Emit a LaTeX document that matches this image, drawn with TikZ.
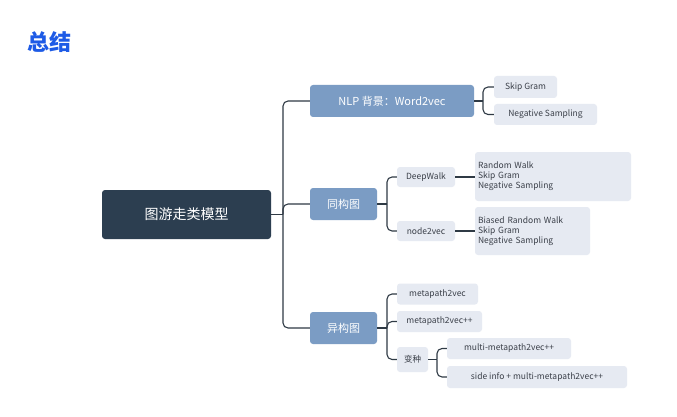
\documentclass[tikz,border=0pt]{standalone}
\usepackage{fontspec}
\setmainfont{Noto Sans CJK SC}
\begin{document}
\begin{tikzpicture}[x=1pt,y=-1pt,
 mid/.style={fill=mblue,rounded corners=3pt,text=white,font=\fontsize{11}{13}\selectfont,inner sep=0pt},
 leaf/.style={fill=lgray,rounded corners=3pt,text=tgray,font=\fontsize{8.5}{10}\selectfont,inner sep=0pt},
 ln/.style={draw=lcol,line width=1.1pt,rounded corners=5pt}]
\definecolor{mblue}{HTML}{7B9CC4}
\definecolor{lgray}{HTML}{E6EAF2}
\definecolor{tgray}{HTML}{3A3F48}
\definecolor{lcol}{HTML}{2F3A45}
\definecolor{dark}{HTML}{2C3E50}
\definecolor{tblue}{HTML}{1E5BE6}
\useasboundingbox (0,0) rectangle (677,417);
\fill[white] (0,0) rectangle (677,417);
\node[font=\fontsize{22}{24}\selectfont\bfseries,text=tblue,anchor=west] (title) at (24,42) {总结};
\node[fill=dark,rounded corners=3pt,text=white,font=\fontsize{14}{16}\selectfont,minimum width=169pt,minimum height=49pt,inner sep=0pt] (root) at (186.5,214.5) {图游走类模型};
\node[mid,minimum width=164pt,minimum height=32pt] (nlp) at (392,101) {NLP 背景：Word2vec};
\node[mid,minimum width=67pt,minimum height=32pt] (tong) at (343.5,204) {同构图};
\node[mid,minimum width=67pt,minimum height=32pt] (yi) at (343.5,328) {异构图};
\node[leaf,minimum width=63pt,minimum height=22pt] (sg) at (525.5,87) {Skip Gram};
\node[leaf,minimum width=103pt,minimum height=21pt] (ns) at (545.5,114.5) {Negative Sampling};
\node[leaf,minimum width=58pt,minimum height=20pt] (dw) at (426,177) {DeepWalk};
\node[leaf,minimum width=156pt,minimum height=49pt,align=left,text width=150pt] (b1) at (553,176.5) {Random Walk\\Skip Gram\\Negative Sampling};
\node[leaf,minimum width=58pt,minimum height=20pt] (n2v) at (426,231) {node2vec};
\node[leaf,minimum width=115pt,minimum height=48pt,align=left,text width=109pt] (b2) at (532.5,231) {Biased Random Walk\\Skip Gram\\Negative Sampling};
\node[leaf,minimum width=81pt,minimum height=21pt] (m1) at (437.5,294) {metapath2vec};
\node[leaf,minimum width=85pt,minimum height=21pt] (m2) at (439.5,321.5) {metapath2vec++};
\node[leaf,minimum width=31pt,minimum height=25pt] (bz) at (412.5,359.5) {变种};
\node[leaf,minimum width=124pt,minimum height=21pt] (mm) at (509,348.5) {multi-metapath2vec++};
\node[leaf,minimum width=180pt,minimum height=22pt] (si) at (537,377) {side info + multi-metapath2vec++};
\coordinate (t) at (283,214.5);
\draw[ln] (root.east) -- (t);
\foreach \n in {nlp,tong,yi} \draw[ln] (t) |- (\n.west);
\coordinate (a) at (483,101);
\draw[ln] (nlp.east) -- (a);
\foreach \n in {sg,ns} \draw[ln] (a) |- (\n.west);
\coordinate (b) at (387,204);
\draw[ln] (tong.east) -- (b);
\foreach \n in {dw,n2v} \draw[ln] (b) |- (\n.west);
\draw[ln] (dw.east) -- (b1.west|-dw.east);
\draw[ln] (n2v.east) -- (b2.west|-n2v.east);
\coordinate (c) at (387,328);
\draw[ln] (yi.east) -- (c);
\foreach \n in {m1,m2,bz} \draw[ln] (c) |- (\n.west);
\coordinate (d) at (437,359.5);
\draw[ln] (bz.east) -- (d);
\foreach \n in {mm,si} \draw[ln] (d) |- (\n.west);
\end{tikzpicture}
\end{document}
